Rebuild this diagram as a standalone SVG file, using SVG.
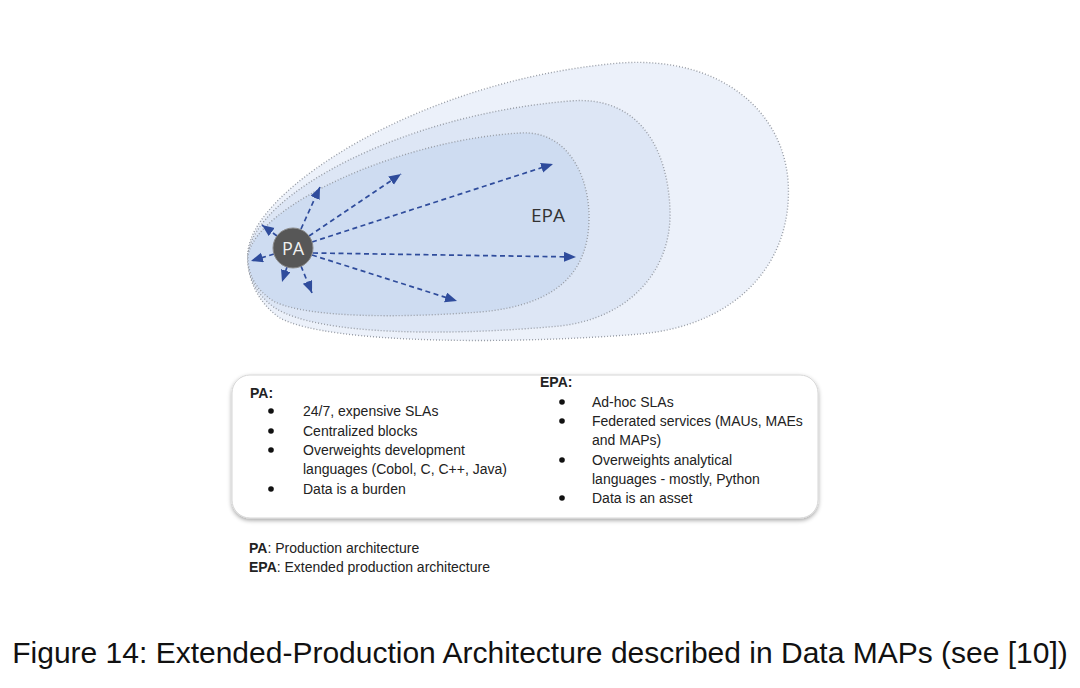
<svg xmlns="http://www.w3.org/2000/svg" width="1080" height="688" viewBox="0 0 1080 688">
<style>
.zone{stroke:#979ca5;stroke-width:1.4;stroke-dasharray:1 2;}
.arr{stroke:#2f4c9c;stroke-width:1.7;stroke-dasharray:5 3.5;fill:none;marker-end:url(#ah);}
.t{font-family:"Liberation Sans",Arial,sans-serif;font-size:14px;fill:#222;}
.b{font-weight:bold;}
.bul{fill:#111;}
</style>
<defs>
<marker id="ah" markerUnits="userSpaceOnUse" markerWidth="14" markerHeight="12" refX="12" refY="5" orient="auto">
<path d="M0,0 L12,5 L0,10 Z" fill="#2f4c9c"/>
</marker>
<filter id="sh" x="-5%" y="-10%" width="110%" height="130%">
<feDropShadow dx="0" dy="2" stdDeviation="2" flood-color="#000" flood-opacity="0.35"/>
</filter>
</defs>
<rect width="1080" height="688" fill="#fff"/>
<g id="zones">
<path id="outer" class="zone" fill="#ecf1fa" d="M248,252 C252,190 420,80 620,63 C720,56 782,110 788,180 C794,260 740,325 640,334 C520,344 330,345 280,318 C258,303 246,278 248,252 Z"/>
<path id="middle" class="zone" fill="#dde6f5" d="M248,254 C255,195 400,115 570,101 C640,95 668,150 670,210 C672,270 630,318 560,326 C450,336 320,336 275,308 C258,296 246,277 248,254 Z"/>
<path id="inner" class="zone" fill="#cedcf1" d="M248,255 C258,205 400,140 520,133 C570,130 590,180 589,220 C588,270 560,305 480,312 C400,318 310,318 275,302 C258,292 247,276 248,255 Z"/>
</g>
<g id="connectors">
<line class="arr" x1="301" y1="229" x2="320" y2="187"/>
<line class="arr" x1="309" y1="236" x2="401" y2="174"/>
<line class="arr" x1="312" y1="242" x2="553" y2="164"/>
<line class="arr" x1="313" y1="253" x2="576" y2="257"/>
<line class="arr" x1="312" y1="255" x2="457" y2="301"/>
<line class="arr" x1="301" y1="266" x2="312" y2="293"/>
<line class="arr" x1="287" y1="267" x2="282" y2="282"/>
<line class="arr" x1="274" y1="254" x2="251" y2="261"/>
<line class="arr" x1="277" y1="236" x2="262" y2="225"/>
</g>
<g id="pa-node">
<circle cx="293" cy="248" r="20" fill="#575757" stroke="#8a8a8a" stroke-width="1"/>
<text x="293" y="255" text-anchor="middle" font-family="'Open Sans','Liberation Sans',sans-serif" font-size="18" fill="#f0f0f0">PA</text>
</g>
<g id="epa-label">
<text x="531" y="222" font-family="'Open Sans','Liberation Sans',sans-serif" font-size="19" fill="#333">EPA</text>
</g>
<g id="legend-box">
<rect x="232" y="375" width="586" height="143" rx="18" fill="#fff" stroke="#d6d6d6" stroke-width="1" filter="url(#sh)"/>
<text class="t b" x="250" y="398">PA:</text>
<circle class="bul" cx="271" cy="411" r="2.8"/><text class="t" x="303" y="416">24/7, expensive SLAs</text>
<circle class="bul" cx="271" cy="431" r="2.8"/><text class="t" x="303" y="436">Centralized blocks</text>
<circle class="bul" cx="271" cy="450" r="2.8"/><text class="t" x="303" y="455">Overweights development</text>
<text class="t" x="303" y="474">languages (Cobol, C, C++, Java)</text>
<circle class="bul" cx="271" cy="489" r="2.8"/><text class="t" x="303" y="494">Data is a burden</text>
<text class="t b" x="540" y="387">EPA:</text>
<circle class="bul" cx="562" cy="402" r="2.8"/><text class="t" x="592" y="407">Ad-hoc SLAs</text>
<circle class="bul" cx="562" cy="421" r="2.8"/><text class="t" x="592" y="426">Federated services (MAUs, MAEs</text>
<text class="t" x="592" y="445">and MAPs)</text>
<circle class="bul" cx="562" cy="460" r="2.8"/><text class="t" x="592" y="465">Overweights analytical</text>
<text class="t" x="592" y="484">languages - mostly, Python</text>
<circle class="bul" cx="562" cy="498" r="2.8"/><text class="t" x="592" y="503">Data is an asset</text>
</g>
<g id="footnote">
<text class="t" x="249" y="553" font-size="13"><tspan class="b">PA</tspan>: Production architecture</text>
<text class="t" x="249" y="572" font-size="13"><tspan class="b">EPA</tspan>: Extended production architecture</text>
</g>
<g id="caption">
<text x="540" y="663" text-anchor="middle" font-family="'Liberation Sans',Arial,sans-serif" font-size="30" fill="#111">Figure 14: Extended-Production Architecture described in Data MAPs (see [10])</text>
</g>
</svg>
